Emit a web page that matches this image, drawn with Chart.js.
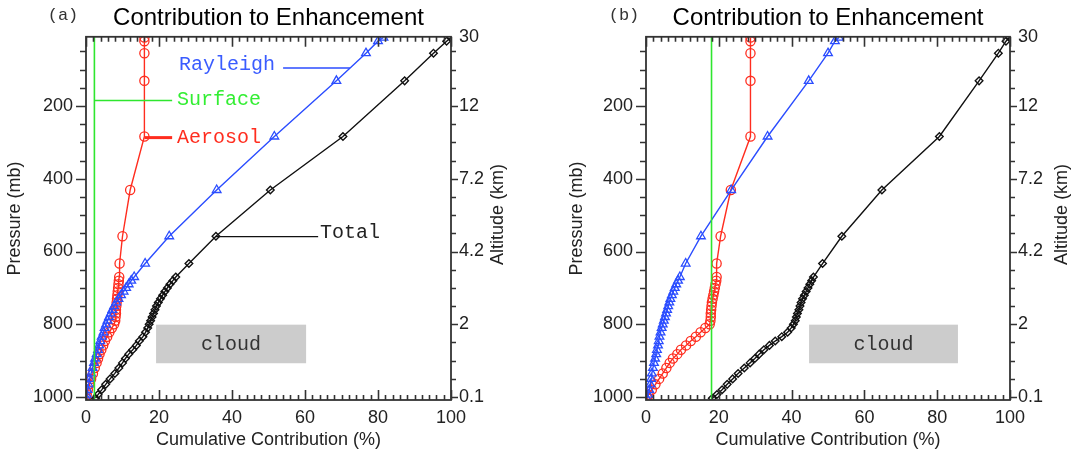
<!DOCTYPE html>
<html>
<head>
<meta charset="utf-8">
<script src="https://cdn.jsdelivr.net/npm/chart.js@4.4.1/dist/chart.umd.min.js"></script>
<style>
  html, body { margin: 0; padding: 0; background: #fff; }
  #wrap { position: relative; width: 1071px; height: 454px; overflow: hidden; }
  .panel { position: absolute; top: 0; height: 454px; }
  #panelA { left: 0; width: 535px; }
  #panelB { left: 535px; width: 536px; }
</style>
</head>
<body>
<div id="wrap">
  <div class="panel" id="panelA"><canvas id="chartA"></canvas></div>
  <div class="panel" id="panelB"><canvas id="chartB"></canvas></div>
</div>
<script>
// model pressure levels (mb), from the surface up
const pressure = [1003, 993, 980, 965, 950, 935, 920, 906, 894, 882, 870, 858, 846, 834, 822, 810, 800,
  790, 780, 770, 760, 750, 740, 730, 720, 710, 700, 690, 680, 670, 633, 558, 431, 284, 131, 55, 22, 12];

const pressureTicks = [200, 400, 600, 800, 1000];
const altitudeTickPressure = [10, 200, 400, 600, 800, 1000];
const altitudeLabels = ['30', '12', '7.2', '4.2', '2', '0.1'];
const surfaceP = [1008, 10];

// (a) cumulative contribution (%)
const rayleighA = [0.1, 0.2, 0.4, 0.7, 1.0, 1.4, 1.8, 2.2, 2.5, 2.9, 3.3, 3.6, 3.9, 4.3, 4.8, 5.1, 5.5,
  5.9, 6.3, 6.8, 7.2, 7.7, 8.3, 8.9, 9.6, 10.3, 11.0, 11.7, 12.4, 13.2, 16.2, 22.8, 35.8, 51.6, 68.6, 76.7, 80.0, 81.5];
const aerosolA = [0, 0.2, 0.5, 0.9, 1.4, 1.9, 2.4, 2.9, 3.3, 3.7, 4.2, 4.7, 5.2, 5.8, 6.4, 7.1, 7.7,
  8.0, 8.1, 8.2, 8.2, 8.3, 8.4, 8.5, 8.6, 8.7, 8.8, 8.9, 9.0, 9.1, 9.2, 10.0, 12.1, 16.0, 16.0, 16.0, 16.0, 16.0];
const totalA = [2.6, 3.3, 4.3, 5.4, 6.6, 7.9, 9.0, 10.0, 10.8, 11.7, 12.8, 13.8, 14.6, 15.6, 16.3, 16.9, 17.3,
  17.7, 18.1, 18.5, 18.9, 19.3, 19.8, 20.4, 21.0, 21.6, 22.3, 23.0, 23.8, 24.6, 28.2, 35.6, 50.5, 70.4, 87.3, 95.2, 98.8, 100];
const surfaceA = [2.3, 2.3];

// (b) cumulative contribution (%)
const rayleighB = [0.2, 0.6, 0.9, 1.2, 1.4, 1.6, 1.9, 2.2, 2.5, 2.8, 3.0, 3.3, 3.5, 3.7, 4.0, 4.3, 4.6,
  4.9, 5.2, 5.5, 5.8, 6.1, 6.4, 6.7, 7.1, 7.5, 7.9, 8.3, 8.8, 9.3, 10.9, 15.1, 23.4, 33.4, 44.7, 50.0, 51.9, 53.0];
const aerosolB = [0.3, 0.7, 1.6, 2.6, 3.6, 4.6, 5.6, 6.5, 7.4, 8.6, 9.6, 11.0, 12.3, 13.7, 15.0, 16.3, 17.5,
  17.7, 17.8, 17.8, 17.9, 18.0, 18.1, 18.3, 18.5, 18.7, 18.9, 19.1, 19.3, 19.4, 19.4, 20.5, 23.3, 28.7, 28.7, 28.7, 28.7, 28.7];
const totalB = [18.2, 19.5, 20.9, 22.3, 23.8, 25.3, 27.0, 28.6, 29.9, 31.1, 32.4, 33.9, 35.5, 37.3, 38.9, 39.9, 40.5,
  41.0, 41.3, 41.6, 42.0, 42.3, 42.6, 43.0, 43.5, 44.0, 44.5, 45.0, 45.5, 46.0, 48.5, 53.8, 64.8, 80.6, 91.5, 96.8, 98.9, 99.8];
const surfaceB = [18.0, 18.0];

// tick marks along the frame
const xTickValues = [];
for (let v = 0; v <= 100; v += 2) xTickValues.push(v);
const pTickValues = [];
for (let p = 50; p <= 1000; p += 50) pTickValues.push(p);

const RED = '#ff2d1f';
const BLUE = '#2b4dff';
const GREEN = '#2ee62e';
const BLACK = '#111';
const SANS = '"Liberation Sans", Arial, sans-serif';
const MONO = '"Liberation Mono", "Courier New", monospace';

// labels inside panel (a), placed in data coordinates
const notesA = [
  { text: 'Rayleigh', color: '#3a5cff', x: 25.5, p: 101, from: [54, 96], to: [72.3, 96], line: BLUE, w: 1.5 },
  { text: 'Surface', color: '#33ee33', x: 24.9, p: 197, from: [2.3, 185], to: [23.6, 185], line: GREEN, w: 1.5 },
  { text: 'Aerosol', color: RED, x: 24.9, p: 302, from: [16, 287], to: [23.6, 287], line: RED, w: 3 },
  { text: 'Total', color: '#222', x: 64.1, p: 563, from: [35.5, 559], to: [63.6, 559], line: BLACK, w: 1.3 }
];

const panelDecor = {
  id: 'panelDecor',
  beforeDatasetsDraw(chart, args, o) {
    const { ctx, scales: { x, y } } = chart;
    const c = o.cloud;
    const x0 = x.getPixelForValue(c.x0), x1 = x.getPixelForValue(c.x1);
    const y0 = y.getPixelForValue(c.p0), y1 = y.getPixelForValue(c.p1);
    ctx.save();
    ctx.fillStyle = '#cccccc';
    ctx.fillRect(x0, y0, x1 - x0, y1 - y0);
    ctx.fillStyle = '#333';
    ctx.font = '20px ' + MONO;
    ctx.textAlign = 'center';
    ctx.textBaseline = 'middle';
    ctx.fillText('cloud', (x0 + x1) / 2, (y0 + y1) / 2 + 1);
    ctx.restore();
  },
  afterDraw(chart, args, o) {
    const ctx = chart.ctx;
    const a = chart.chartArea;
    const xs = chart.scales.x, ys = chart.scales.y;
    ctx.save();
    ctx.strokeStyle = '#333';
    ctx.lineWidth = 1.6;
    ctx.beginPath();
    // x ticks point inwards, top and bottom
    xTickValues.forEach(v => {
      const px = Math.round(xs.getPixelForValue(v)) + 0.5;
      const len = v % 20 === 0 ? 10 : 5;
      ctx.moveTo(px, a.bottom);
      ctx.lineTo(px, a.bottom - len);
      ctx.moveTo(px, a.top);
      ctx.lineTo(px, a.top + len);
    });
    // pressure ticks point outwards, left and right
    pTickValues.forEach(p => {
      const py = Math.round(ys.getPixelForValue(p)) + 0.5;
      const major = p % 200 === 0;
      ctx.moveTo(a.left, py);
      ctx.lineTo(a.left - (major ? 10 : 6), py);
      ctx.moveTo(a.right, py);
      ctx.lineTo(a.right + (major ? 7 : 5), py);
    });
    ctx.stroke();
    ctx.lineWidth = 1.8;
    ctx.strokeRect(a.left, a.top, a.right - a.left, a.bottom - a.top);

    // annotations
    (o.notes || []).forEach(n => {
      ctx.strokeStyle = n.line;
      ctx.lineWidth = n.w;
      ctx.beginPath();
      ctx.moveTo(xs.getPixelForValue(n.from[0]), ys.getPixelForValue(n.from[1]));
      ctx.lineTo(xs.getPixelForValue(n.to[0]), ys.getPixelForValue(n.to[1]));
      ctx.stroke();
      ctx.fillStyle = n.color;
      ctx.font = '20px ' + MONO;
      ctx.textAlign = 'left';
      ctx.textBaseline = 'alphabetic';
      ctx.fillText(n.text, xs.getPixelForValue(n.x), ys.getPixelForValue(n.p));
    });

    // panel tag
    ctx.fillStyle = '#333';
    ctx.font = '17px ' + MONO;
    ctx.textAlign = 'center';
    ctx.textBaseline = 'middle';
    ctx.fillText(o.tag, a.left + o.tagDx, 15);

    // right axis title, read bottom to top
    ctx.translate(a.right + o.altDx, (a.top + a.bottom) / 2 - 4);
    ctx.rotate(-Math.PI / 2);
    ctx.fillStyle = '#222';
    ctx.font = '18px ' + SANS;
    ctx.fillText('Altitude (km)', 0, 0);
    ctx.restore();
  }
};

function makeChart(id, s) {
  const pts = (xs, ps) => xs.map((v, i) => ({ x: v, y: ps[i] }));
  return new Chart(document.getElementById(id), {
    type: 'scatter',
    data: {
      datasets: [
        { label: 'Surface', data: pts(s.surface, surfaceP), showLine: true, borderColor: GREEN,
          borderWidth: 1.6, pointRadius: 0 },
        { label: 'Rayleigh', data: pts(s.rayleigh, pressure), showLine: true, borderColor: BLUE,
          backgroundColor: 'rgba(0,0,0,0)', borderWidth: 1.4, pointStyle: 'triangle', pointRadius: 5,
          pointBorderColor: BLUE, pointBorderWidth: 1.3 },
        { label: 'Total', data: pts(s.total, pressure), showLine: true, borderColor: BLACK,
          backgroundColor: 'rgba(0,0,0,0)', borderWidth: 1.4, pointStyle: 'rectRot', pointRadius: 3.8,
          pointBorderColor: BLACK, pointBorderWidth: 1.4 },
        { label: 'Aerosol', data: pts(s.aerosol, pressure), showLine: true, borderColor: RED,
          backgroundColor: 'rgba(0,0,0,0)', borderWidth: 1.4, pointStyle: 'circle', pointRadius: 4.6,
          pointBorderColor: RED, pointBorderWidth: 1.3 }
      ]
    },
    options: {
      responsive: true,
      maintainAspectRatio: false,
      animation: false,
      events: [],
      layout: { padding: 0 },
      plugins: {
        legend: { display: false },
        tooltip: { enabled: false },
        title: {
          display: true,
          text: 'Contribution to Enhancement',
          fullSize: false,
          color: '#000',
          font: { family: SANS, size: 24, weight: 'normal' },
          padding: { top: 4, bottom: 4 }
        },
        panelDecor: s.decor
      },
      scales: {
        x: {
          type: 'linear', min: 0, max: 100,
          grid: { display: false, drawTicks: false }, border: { display: false },
          ticks: { stepSize: 20, padding: 7, color: '#222', font: { family: SANS, size: 18 }, maxRotation: 0 },
          title: { display: true, text: 'Cumulative Contribution (%)', color: '#222',
            font: { family: SANS, size: 18 }, padding: { top: 0, bottom: 3 } },
          afterFit: sc => { sc.height = 54; }
        },
        y: {
          type: 'linear', position: 'left', reverse: true, min: 10, max: 1008,
          grid: { display: false, drawTicks: false }, border: { display: false },
          ticks: { padding: 13, color: '#222', font: { family: SANS, size: 18 }, callback: v => String(v) },
          afterBuildTicks: sc => { sc.ticks = pressureTicks.map(v => ({ value: v })); },
          title: { display: true, text: 'Pressure (mb)', color: '#222',
            font: { family: SANS, size: 18 }, padding: { top: s.leftTitlePad, bottom: 0 } },
          afterFit: sc => { sc.width = s.leftWidth; }
        },
        y2: {
          type: 'linear', position: 'right', reverse: true, min: 10, max: 1008,
          grid: { display: false, drawTicks: false }, border: { display: false },
          ticks: { padding: 8, color: '#222', font: { family: SANS, size: 18 },
            callback: v => altitudeLabels[altitudeTickPressure.indexOf(v)] },
          afterBuildTicks: sc => { sc.ticks = altitudeTickPressure.map(v => ({ value: v })); },
          afterFit: sc => { sc.width = s.rightWidth; }
        }
      }
    },
    plugins: [panelDecor]
  });
}

makeChart('chartA', {
  rayleigh: rayleighA, aerosol: aerosolA, total: totalA, surface: surfaceA,
  leftWidth: 86, rightWidth: 84, leftTitlePad: 4,
  decor: { tag: '(a)', tagDx: -23, altDx: 47, notes: notesA,
    cloud: { x0: 19.2, x1: 60.3, p0: 801, p1: 907 } }
});

makeChart('chartB', {
  rayleigh: rayleighB, aerosol: aerosolB, total: totalB, surface: surfaceB,
  leftWidth: 111, rightWidth: 61, leftTitlePad: 31,
  decor: { tag: '(b)', tagDx: -22, altDx: 52, notes: [],
    cloud: { x0: 44.8, x1: 85.7, p0: 801, p1: 907 } }
});
</script>
</body>
</html>
